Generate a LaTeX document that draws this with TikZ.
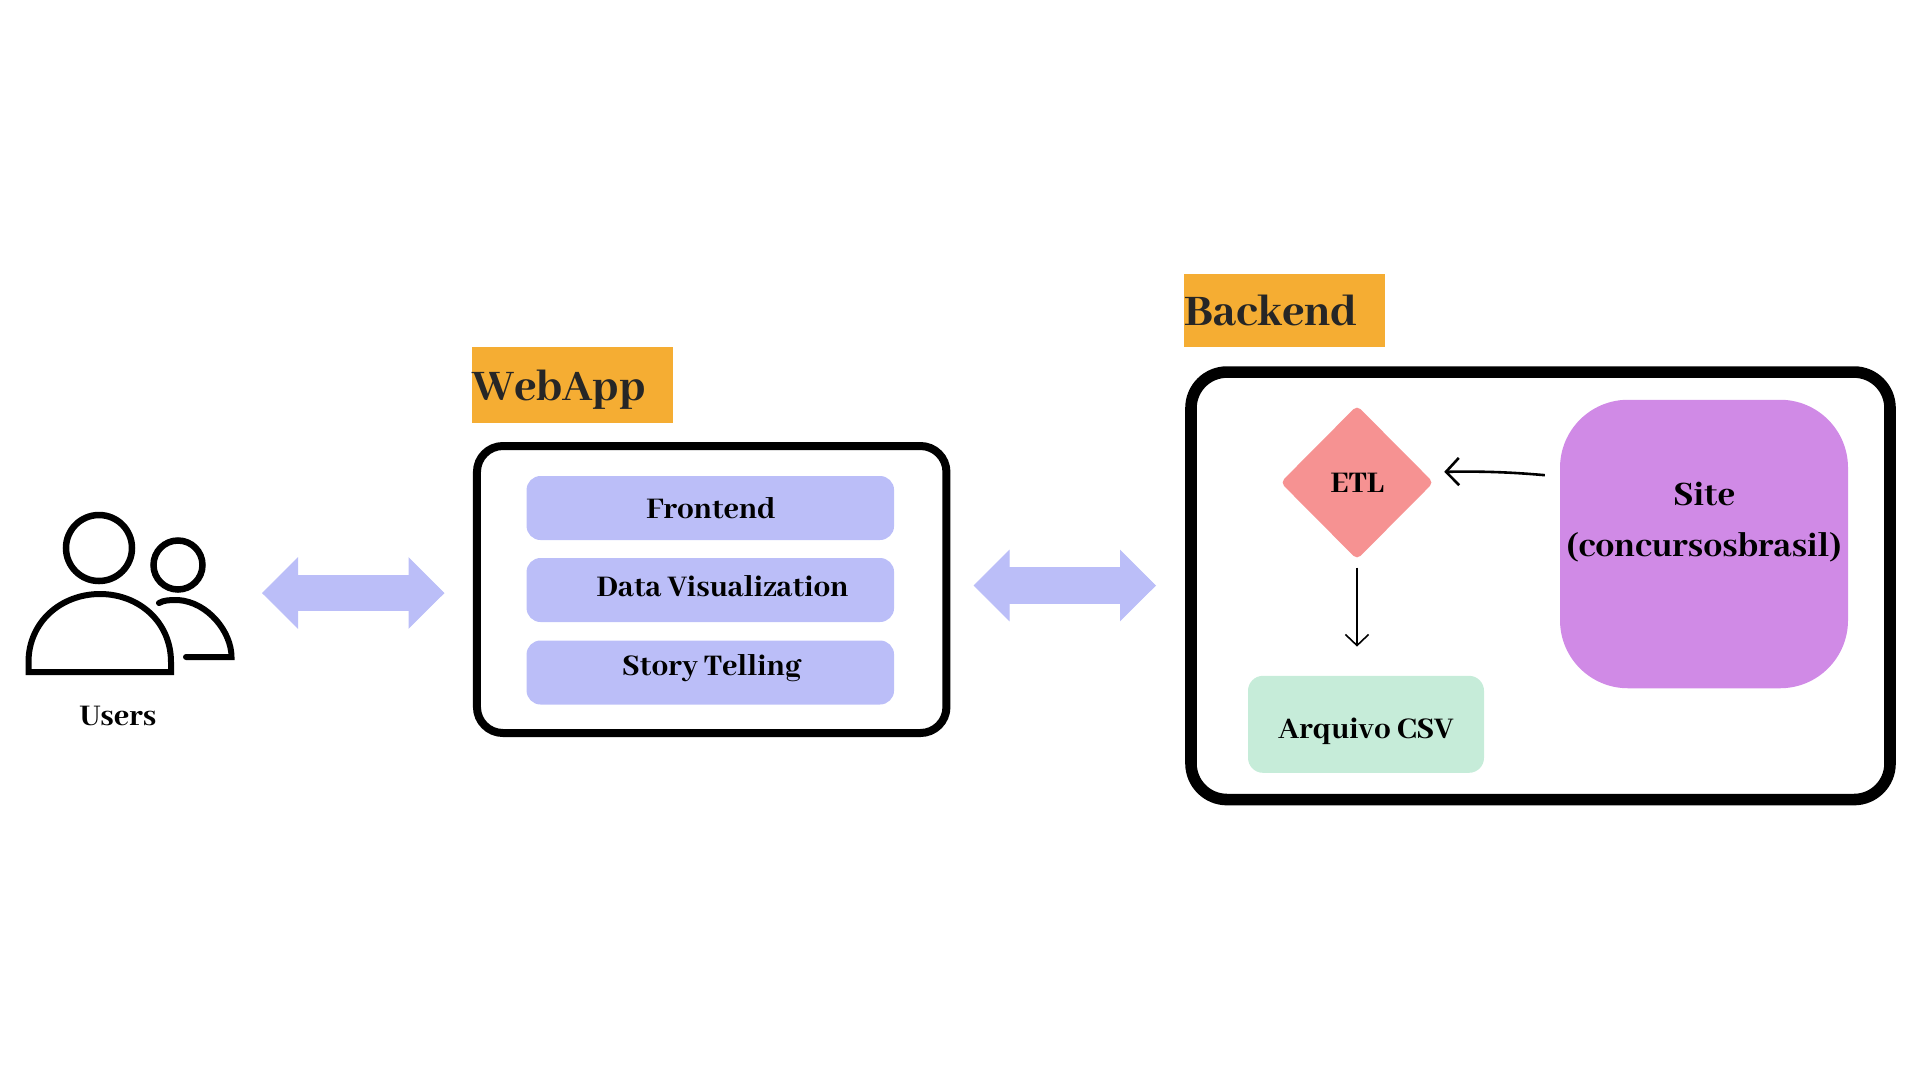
\documentclass[tikz,border=0pt]{standalone}
\usepackage{fontspec}
\setmainfont{Abhaya Libre ExtraBold}
\usetikzlibrary{arrows.meta,shapes.geometric}
\definecolor{tagorange}{HTML}{F5AD33}
\definecolor{barblue}{HTML}{BBBEF8}
\definecolor{etlred}{HTML}{F69292}
\definecolor{sitepurple}{HTML}{D08AE6}
\definecolor{csvgreen}{HTML}{C6ECD9}
\definecolor{tagtext}{HTML}{262626}

\tikzset{%
  frame box/.style={
    draw,
    rectangle,
    inner sep=0pt
  },
  title tag/.style={
    fill=tagorange,
    anchor=north west,
    inner sep=0pt,
    text width=#1,
    text depth=0pt,
    align=left,
    text=tagtext,
    font=\fontsize{48}{48}\selectfont
  },
  bar box/.style={
    fill=barblue,
    rounded corners=14pt,
    minimum width=367.5pt,
    minimum height=64pt
  },
  label text/.style={
    font=\fontsize{33}{33}\selectfont
  },
  block arrow/.style={
    draw=barblue,
    line width=36.5pt,
    {Triangle[length=36pt,width=71.5pt,line width=1pt]}-{Triangle[length=36pt,width=71.5pt,line width=1pt]}
  },
  sketch arrow/.style={
    -{Straight Barb[length=#1,width=2.1*#1]}
  },
  user line/.style={
    draw,
    line width=6.5pt
  },
}

\begin{document}
\begin{tikzpicture}[x=1pt,y=-1pt]
\path [use as bounding box] (0,0) rectangle (1920,1080);

% users
\node [user line, circle, inner sep=0pt, minimum size=66pt] (head-1) at (99,548) {};
\node [user line, circle, inner sep=0pt, minimum size=49pt] (head-2) at (178,565) {};
\draw [line width=6pt] (28.5,672) -- (28.5,662) .. controls (28.5,622) and (61,594) .. (100,594)
  .. controls (139,594) and (171,622) .. (171,662) -- (171,672) -- cycle;
\draw [line width=6pt, line cap=round] (159,603) .. controls (164,600) and (170,600) .. (178,600)
  .. controls (208,602) and (231.5,632) .. (231.5,657) -- (186,657);
\node [label text] (users) at (118,716) {Users};

% webapp
\node [title tag=201pt, minimum height=75.5pt] (webapp-tag) at (472,347) {WebApp};
\node [frame box, line width=8pt, rounded corners=26pt, minimum width=469.5pt, minimum height=287pt] (webapp) at (711.7,589.5) {};

\foreach \m/\y/\x/\ty [count=\i] in {Frontend/508/711/508, Data Visualization/590/722.6/586, Story Telling/672.5/711.6/668.5}
{
  \node [bar box] (bar-\i) at (710.3,\y) {};
  \node [label text] (bar-text-\i) at (\x,\ty) {\m};
}

% backend
\node [title tag=201pt, minimum height=72.5pt] (backend-tag) at (1184,274) {Backend};
\node [frame box, line width=11.6pt, rounded corners=36pt, minimum width=699pt, minimum height=427.5pt] (backend) at (1540.5,585.8) {};

\node [diamond, fill=etlred, inner sep=0pt, rounded corners=5pt, minimum width=153pt, minimum height=154pt,
  label text] (etl) at (1357,482.5) {ETL};
\node [fill=sitepurple, rounded corners=68pt, minimum width=288pt, minimum height=288.5pt] (site) at (1704,544) {};
\node [font=\fontsize{37.6}{51}\selectfont, align=center] (site-text) at (1704,522.5) {Site\\(concursosbrasil)};
\node [fill=csvgreen, rounded corners=15pt, minimum width=236pt, minimum height=97pt,
  text height=29pt, text depth=0pt, label text] (csv) at (1366,724.3) {Arquivo CSV};

% connectors
\coordinate (users-right) at (262,593);
\coordinate (webapp-left) at (444.5,593);
\coordinate (webapp-right) at (973.5,585.5);
\coordinate (backend-left) at (1156,585.5);
\draw [block arrow] (users-right) -- (webapp-left);
\draw [block arrow] (webapp-right) -- (backend-left);

\draw [sketch arrow=13pt, line width=2.6pt, shorten <=15pt, shorten >=10.5pt] ([yshift=6pt]site.west |- etl.east) to [bend right=3] ([yshift=10.5pt]etl.east);
\draw [sketch arrow=11pt, line width=1.6pt, shorten <=8pt, shorten >=29pt] (etl.south) -- (etl.south |- csv.north);

\end{tikzpicture}
\end{document}
